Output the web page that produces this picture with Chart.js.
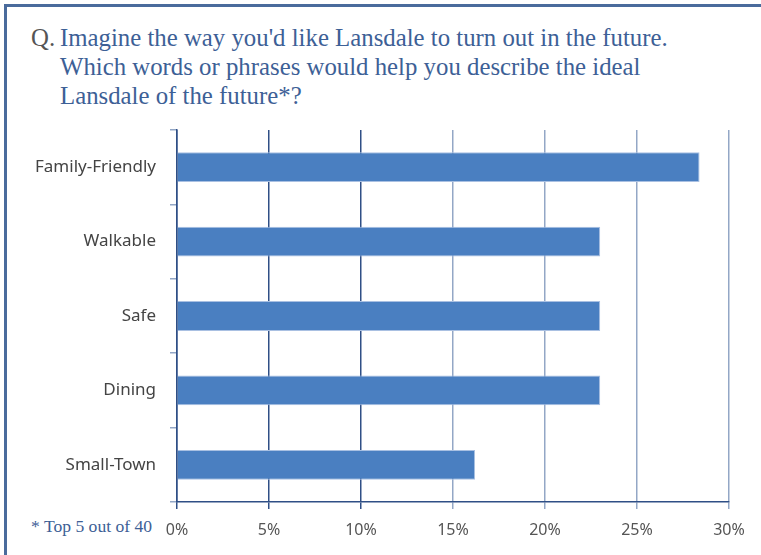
<!DOCTYPE html>
<html>
<head>
<meta charset="utf-8">
<script src="https://cdn.jsdelivr.net/npm/chart.js@4/dist/chart.umd.min.js"></script>
<style>
  html, body { margin: 0; padding: 0; background: #fff; }
  body { width: 761px; height: 555px; position: relative; overflow: hidden; }
  .frame { position: absolute; left: 4px; top: 4px; width: 800px; height: 600px;
           border-top: 3px solid #4a6b9c; border-left: 3px solid #4a6b9c; box-sizing: border-box; }
  .q { position: absolute; font-family: "Liberation Serif", serif; font-size: 24.8px;
       color: #3d6096; white-space: nowrap; line-height: 29px; }
  .q .mark { color: #555; }
  .note { position: absolute; left: 31px; top: 516px; font-family: "Liberation Serif", serif;
          font-size: 17.6px; color: #3d6096; white-space: nowrap; }
  #wrap { position: absolute; left: 0; top: 0; width: 761px; height: 555px; }
</style>
</head>
<body>
<div class="frame"></div>
<div class="q" style="left:31px; top:23px;"><span class="mark">Q.</span></div>
<div class="q" style="left:60px; top:23px;">Imagine the way you'd like Lansdale to turn out in the future.</div>
<div class="q" style="left:60px; top:52px;">Which words or phrases would help you describe the ideal</div>
<div class="q" style="left:60px; top:81px;">Lansdale of the future*?</div>
<div class="note">* Top 5 out of 40</div>
<div id="wrap"><canvas id="c" width="761" height="555"></canvas></div>
<script>
// Share of respondents choosing each word (top 5 of 40)
const categories = ["Family-Friendly", "Walkable", "Safe", "Dining", "Small-Town"];
const shares = [28.4, 23.0, 23.0, 23.0, 16.2];
const tickValues = [0, 5, 10, 15, 20, 25, 30];

const navy = "#2f4f86";
const paleNavy = "#93a7c6";

new Chart(document.getElementById("c"), {
  type: "bar",
  data: {
    labels: categories,
    datasets: [{
      data: shares,
      backgroundColor: "#4a7fc1",
      borderColor: "#a9c0e2",
      borderWidth: 1,
      categoryPercentage: 1,
      barPercentage: 0.4
    }]
  },
  options: {
    indexAxis: "y",
    responsive: false,
    animation: false,
    layout: { padding: { top: 130, right: 32, bottom: 0, left: 0 } },
    plugins: { legend: { display: false }, tooltip: { enabled: false } },
    scales: {
      x: {
        min: 0, max: 30,
        afterBuildTicks: (s) => { s.ticks = tickValues.map(v => ({ value: v })); },
        afterFit: (s) => { s.height = 53; },
        border: { display: true, color: navy, width: 1.5 },
        grid: {
          color: (ctx) => (ctx.tick && ctx.tick.value > 10 ? paleNavy : navy),
          lineWidth: 1.5,
          tickLength: 7
        },
        ticks: {
          padding: 12,
          color: "#555",
          font: { family: "Noto Sans", size: 16 },
          callback: (v) => v + "%"
        }
      },
      y: {
        afterFit: (s) => { s.width = 177; },
        border: { display: true, color: navy, width: 1.5 },
        grid: { drawOnChartArea: false, color: paleNavy, lineWidth: 1.5, tickLength: 7 },
        ticks: {
          padding: 14,
          color: "#444",
          font: { family: "Noto Sans", size: 17 }
        }
      }
    }
  }
});
</script>
</body>
</html>
